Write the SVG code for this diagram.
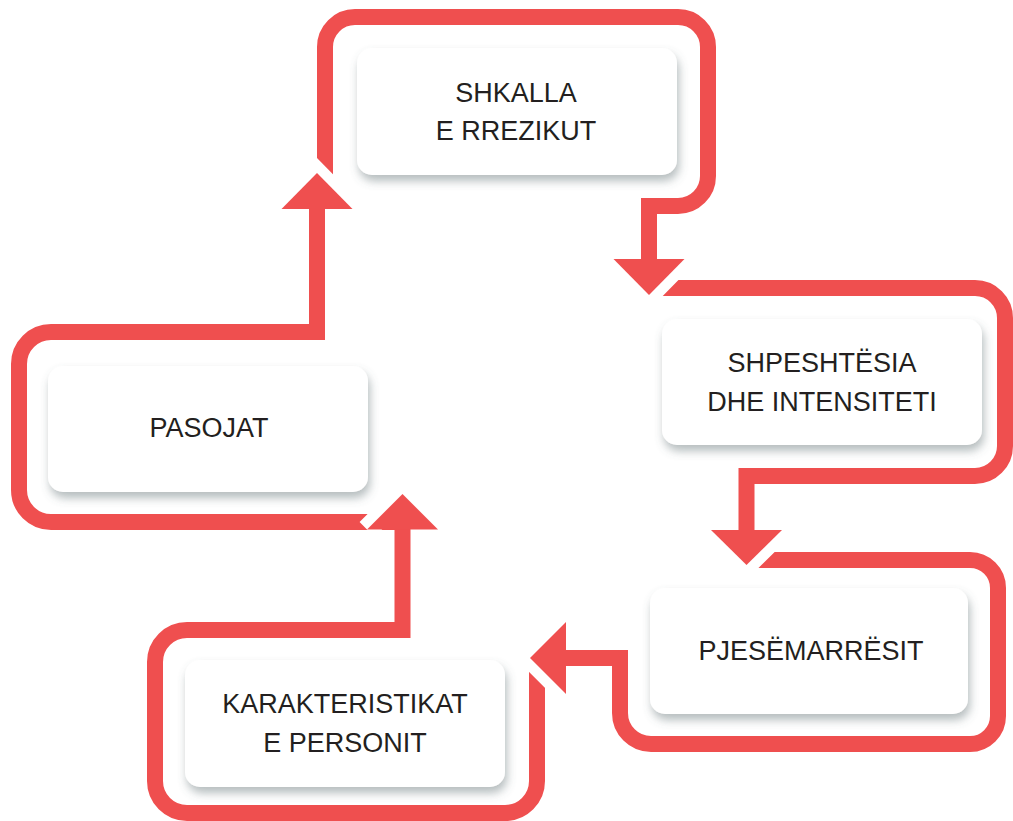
<svg xmlns="http://www.w3.org/2000/svg" width="1013" height="821" viewBox="0 0 1013 821">
<style>
.band{fill:none;stroke:#ef4f4f;stroke-width:16;stroke-linejoin:miter;stroke-linecap:butt}
.gap{fill:none;stroke:#ffffff;stroke-width:21;stroke-linejoin:miter;stroke-linecap:butt}
.head{fill:#ef4f4f}
.box{fill:#ffffff;filter:url(#sh)}
.lbl{font-family:"Liberation Sans",Arial,sans-serif;font-size:27px;fill:#231f20;text-anchor:middle}
</style>
<defs>
<filter id="sh" x="-20%" y="-30%" width="140%" height="170%">
<feDropShadow dx="2" dy="6" stdDeviation="5" flood-color="#5b6a6e" flood-opacity="0.45"/>
</filter>
</defs>
<rect width="1013" height="821" fill="#ffffff"/>
<g id="connectors">
<path class="band" d="M325,195 V47 A30,30 0 0 1 355,17 H678 A30,30 0 0 1 708,47 V176 A30,30 0 0 1 678,206 H649 V262"/>
<path class="band" d="M650,288 H975 A30,30 0 0 1 1005,318 V446 A30,30 0 0 1 975,476 H746.5 V533"/>
<path class="band" d="M748,560 H970 A28,28 0 0 1 998,588 V716 A28,28 0 0 1 970,744 H651 A31,31 0 0 1 620,713 V658 H563"/>
<path class="band" d="M537,652 V781 A32,32 0 0 1 505,813 H187 A32,32 0 0 1 155,781 V662 A32,32 0 0 1 187,630 H402.5 V526"/>
<path class="band" d="M398,522 H51 A32,32 0 0 1 19,490 V364 A32,32 0 0 1 51,332 H317 V206"/>
<polyline class="gap" points="613.5,259 649,295 684.5,259"/>
<polygon class="head" points="613.5,259 649,295 684.5,259"/>
<polyline class="gap" points="711,530 746.5,565 782,530"/>
<polygon class="head" points="711,530 746.5,565 782,530"/>
<polyline class="gap" points="566,622 530,658 566,694"/>
<polygon class="head" points="566,622 530,658 566,694"/>
<polyline class="gap" points="367,529.5 402.5,494 438,529.5"/>
<polygon class="head" points="367,529.5 402.5,494 438,529.5"/>
<polyline class="gap" points="281.5,209 317,173 352.5,209"/>
<polygon class="head" points="281.5,209 317,173 352.5,209"/>
</g>
<g id="node-shkalla">
<rect class="box" x="357" y="48" width="320" height="127" rx="15"/>
<text class="lbl" x="516" y="102">SHKALLA</text>
<text class="lbl" x="516" y="140">E RREZIKUT</text>
</g>
<g id="node-shpeshtesia">
<rect class="box" x="662" y="319" width="320" height="126" rx="15"/>
<text class="lbl" x="822" y="372">SHPESHTËSIA</text>
<text class="lbl" x="822" y="411">DHE INTENSITETI</text>
</g>
<g id="node-pjesemarresit">
<rect class="box" x="650" y="588" width="318" height="126" rx="15"/>
<text class="lbl" x="811" y="660">PJESËMARRËSIT</text>
</g>
<g id="node-karakteristikat">
<rect class="box" x="185" y="660" width="320" height="127" rx="15"/>
<text class="lbl" x="345" y="713">KARAKTERISTIKAT</text>
<text class="lbl" x="345" y="752">E PERSONIT</text>
</g>
<g id="node-pasojat">
<rect class="box" x="48" y="366" width="320" height="126" rx="15"/>
<text class="lbl" x="209" y="437">PASOJAT</text>
</g>
</svg>
